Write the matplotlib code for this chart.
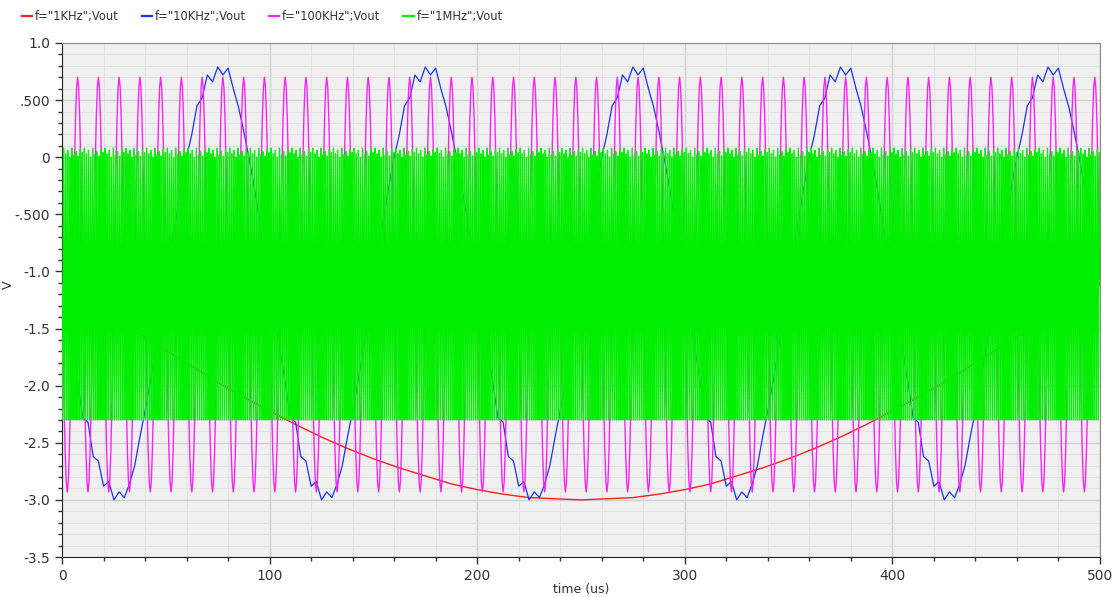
import numpy as np
import matplotlib.pyplot as plt
from matplotlib.ticker import MultipleLocator, FixedLocator

# time span of the transient run (us)
t_end = 500.0

# legend labels / colours
series_labels = ['f="1KHz";Vout', 'f="10KHz";Vout', 'f="100KHz";Vout', 'f="1MHz";Vout']
series_colors = ['#ff2020', '#2030ff', '#ff22ff', '#00ee00']

# 1KHz: values read every 12.5 us across the window
red_step = 12.5
red_v = [-1.11, -1.26, -1.41, -1.55, -1.69, -1.83, -1.97, -2.10, -2.22, -2.34,
         -2.45, -2.55, -2.64, -2.72, -2.79, -2.86, -2.91, -2.95, -2.98, -2.99,
         -3.00, -2.99, -2.98, -2.95, -2.91, -2.86, -2.79, -2.72, -2.64, -2.55,
         -2.45, -2.34, -2.22, -2.10, -1.97, -1.83, -1.69, -1.55, -1.41, -1.26,
         -1.12]

# 10KHz: one period (100 us) read every 2.5 us, wiggles included
blue_period = 100.0
blue_cycle = [-1.11, -1.41, -1.69, -1.97, -2.28, -2.32, -2.62, -2.66, -2.88, -2.84,
              -3.00, -2.93, -2.98, -2.86, -2.70, -2.45, -2.22, -1.97, -1.69, -1.41,
              -1.11, -0.81, -0.53, -0.25, 0.00, 0.20, 0.45, 0.52, 0.72, 0.66,
              0.79, 0.72, 0.78, 0.60, 0.44, 0.23, 0.00, -0.25, -0.53, -0.81]

# 100KHz: one period (10 us) read every 0.5 us
mag_period = 10.0
mag_cycle = [-1.12, -1.68, -2.18, -2.58, -2.84, -2.93, -2.84, -2.58, -2.18, -1.68,
             -1.12, -0.55, -0.05, 0.35, 0.61, 0.70, 0.61, 0.35, -0.05, -0.55]

# 1MHz: one period (1 us), peaks vary a little from cycle to cycle
grn_period = 1.0
grn_cycle = [-1.11, -1.95, -2.30, -1.95, -1.11, -0.27, 0.08, -0.27]
grn_peak_trim = [0.0, 0.05, 0.02, 0.08, 0.0, 0.06, 0.03, 0.07, 0.01, 0.04]

y_ticks = [1.0, 0.5, 0.0, -0.5, -1.0, -1.5, -2.0, -2.5, -3.0, -3.5]
y_ticklabels = ['1.0', '.500', '0', '-.500', '-1.0', '-1.5', '-2.0', '-2.5', '-3.0', '-3.5']
x_ticks = [0, 100, 200, 300, 400, 500]


def tile_cycle(cycle, period, span, trim=None):
    n = len(cycle)
    reps = int(round(span / period))
    vals = np.tile(np.asarray(cycle, dtype=float), reps)
    if trim is not None:
        # lower the tops of some cycles, as the sampled trace shows
        tr = np.tile(np.asarray(trim), reps // len(trim) + 1)[:reps]
        top = np.tile(np.asarray(cycle) > -0.5, reps)
        vals = vals - top * np.repeat(tr, n)
    ts = np.arange(reps * n) * (period / n)
    return np.append(ts, span), np.append(vals, cycle[0])


fig = plt.figure(figsize=(11.16, 5.97), dpi=100)
ax = fig.add_axes([0.0556, 0.067, 0.93, 0.861])
ax.set_facecolor('#f0f0f0')

red_t = np.arange(len(red_v)) * red_step
bt, bv = tile_cycle(blue_cycle, blue_period, t_end)
mt, mv = tile_cycle(mag_cycle, mag_period, t_end)
gt, gv = tile_cycle(grn_cycle, grn_period, t_end, grn_peak_trim)

l1, = ax.plot(red_t, red_v, color=series_colors[0], lw=1.0, zorder=3)
l2, = ax.plot(bt, bv, color=series_colors[1], lw=0.9, zorder=3)
l3, = ax.plot(mt, mv, color=series_colors[2], lw=1.0, zorder=3)
l4, = ax.plot(gt, gv, color=series_colors[3], lw=0.9, zorder=4)

ax.set_xlim(0, t_end)
ax.set_ylim(-3.5, 1.0)
ax.xaxis.set_major_locator(FixedLocator(x_ticks))
ax.xaxis.set_minor_locator(MultipleLocator(20))
ax.yaxis.set_major_locator(FixedLocator(y_ticks))
ax.yaxis.set_minor_locator(MultipleLocator(0.1))
ax.set_yticklabels(y_ticklabels)

ax.grid(which='minor', color='#e2e2e2', lw=0.8, zorder=0)
ax.grid(which='major', color='#d0d0d0', lw=1.0, zorder=0)
ax.set_axisbelow(True)

ax.tick_params(which='major', length=5, width=1, labelsize=10, color='#333333', labelcolor='#333333')
ax.tick_params(which='minor', length=3, width=1, color='#333333')
for s in ['left', 'bottom']:
    ax.spines[s].set_color('#222222')
for s in ['top', 'right']:
    ax.spines[s].set_color('#888888')

ax.set_xlabel('time (us)', fontsize=9, color='#333333', labelpad=0)
ax.set_ylabel('V', fontsize=9, color='#333333')
ax.yaxis.set_label_coords(-0.045, 0.53)

leg = fig.legend([l1, l2, l3, l4], series_labels, loc='upper left', bbox_to_anchor=(0.01, 1.0),
                 ncol=4, frameon=False, fontsize=8.3, handlelength=0.9, handletextpad=0.25,
                 columnspacing=2.0, labelcolor='#333333')
for h in leg.get_lines():
    h.set_linewidth(1.6)

fig.savefig('out.png', dpi=100)
